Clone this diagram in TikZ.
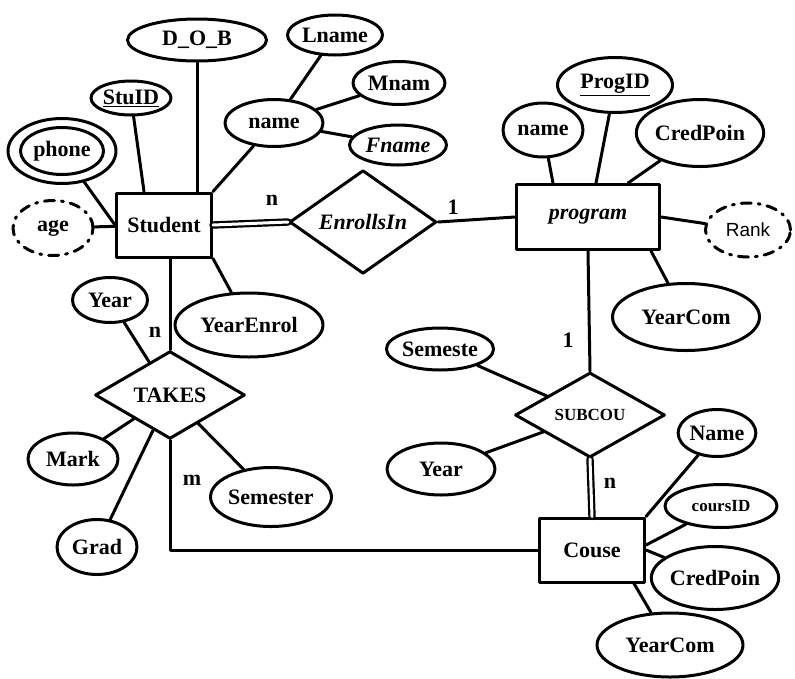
\documentclass[tikz,border=0pt]{standalone}
\usepackage{fontspec}
\setmainfont{Liberation Serif}
\setsansfont{Liberation Sans}
\usetikzlibrary{shapes.geometric}
\tikzset{
    lab/.style={
        font=\fontsize{22}{26}\selectfont\bfseries
    }
}
\begin{document}
\begin{tikzpicture}[x=1pt,y=-1pt, line cap=round, line join=round]

\tikzset{
  main/.style={draw=black, line width=3pt},
  ent/.style={rectangle, main, lab, inner sep=0pt},
  rel/.style={diamond, main, lab, inner sep=0pt},
  attr/.style={ellipse, main, lab, inner sep=0pt},
  derived/.style={attr, dash pattern=on 10pt off 7pt on 2pt off 7pt},
  small/.style={font=\fontsize{17}{20}\selectfont\bfseries},
  card/.style={lab},
  dbl/.style={draw=black, line width=2.2pt, double, double distance=3pt},
}

\useasboundingbox[fill=white] (0,0) rectangle (795,678);

% entities and relations
\node[ent, minimum width=95pt, minimum height=64pt] (Student) at (164,225) {Student\hspace{6pt}};
\node[rel, minimum width=147pt, minimum height=89pt] (EnrollsIn) at (363,222) {\itshape EnrollsIn};
\node[ent, minimum width=143pt, minimum height=65pt] (program) at (588,217) {\itshape program\hspace{28pt}};
\node[rel, minimum width=150pt, minimum height=85pt, small] (SUBCOU) at (590,415) {SUBCOU};
\node[ent, minimum width=105pt, minimum height=64pt] (Couse) at (592,550) {Couse};
\node[rel, minimum width=150pt, minimum height=85pt] (TAKES) at (170,395) {TAKES};

% attributes of Student
\node[attr, minimum width=108pt, minimum height=65pt] (phone) at (62,151) {};
\node[attr, minimum width=83pt, minimum height=47pt] (phonein) at (62,151) {phone};
\node[derived, minimum width=80pt, minimum height=55pt] (age) at (53,228) {age};
\node[attr, minimum width=80pt, minimum height=34pt] (StuID) at (131,98) {\underline{StuID}};
\node[attr, minimum width=139pt, minimum height=42pt] (DOB) at (197,40) {D\_O\_B};
\node[attr, minimum width=98pt, minimum height=47pt] (name) at (274,123) {name};
\node[attr, minimum width=95pt, minimum height=40pt] (Lname) at (335,35) {Lname};
\node[attr, minimum width=92pt, minimum height=43pt] (Mnam) at (399,83) {Mnam};
\node[attr, minimum width=97pt, minimum height=40pt] (Fname) at (398,145) {\itshape Fname};
\node[attr, minimum width=148pt, minimum height=64pt] (YearEnrol) at (249,325) {YearEnrol};

% attributes of program
\node[attr, minimum width=80pt, minimum height=54pt] (pname) at (543,130) {name};
\node[attr, minimum width=115pt, minimum height=55pt] (ProgID) at (615,85) {\underline{ProgID}};
\node[attr, minimum width=125pt, minimum height=67pt] (pCred) at (700,133) {CredPoin};
\node[attr, minimum width=147pt, minimum height=67pt] (pYear) at (686,317) {YearCom};
\node[derived, minimum width=85pt, minimum height=54pt, font=\fontsize{19}{22}\selectfont\sffamily] (Rank) at (748,230) {Rank};

% attributes of SUBCOU
\node[attr, minimum width=105pt, minimum height=42pt] (Semeste) at (440,349) {Semeste};
\node[attr, minimum width=108pt, minimum height=52pt] (sYear) at (441,469) {Year};

% attributes of Couse
\node[attr, minimum width=71pt, minimum height=47pt] (cName) at (717,433) {Name};
\node[attr, minimum width=112pt, minimum height=43pt, small] (coursID) at (721,506) {coursID};
\node[attr, minimum width=116pt, minimum height=63pt] (cCred) at (715,578) {CredPoin};
\node[attr, minimum width=146pt, minimum height=64pt] (cYear) at (670,645) {YearCom};

% attributes of TAKES
\node[attr, minimum width=75pt, minimum height=45pt] (tYear) at (110,300) {Year};
\node[attr, minimum width=90pt, minimum height=52pt] (Mark) at (73,459) {Mark};
\node[attr, minimum width=80pt, minimum height=55pt] (Grad) at (97,547) {Grad};
\node[attr, minimum width=115pt, minimum height=59pt] (Semester) at (271,497) {Semester};

% Student attributes
\draw[main] (phone) -- (Student.west);
\draw[main] (age) -- (Student);
\draw[main] (StuID) -- ([xshift=-20pt]Student.north);
\draw[main] (DOB.south) -- (DOB.south |- Student.north);
\draw[main] (name) -- (Student.north east);
\draw[main] (Lname) -- (name);
\draw[main] (Mnam) -- (name);
\draw[main] (Fname) -- (name);
\draw[main] (Student.south east) -- (YearEnrol);

% program attributes
\draw[main] (pname) -- ([xshift=-35pt]program.north);
\draw[main] (ProgID) -- ([xshift=8pt]program.north);
\draw[main] (pCred) -- ([xshift=40pt]program.north);
\draw[main] (pYear) -- ([xshift=-10pt]program.south east);
\draw[main] (program.east) -- (Rank);

% Couse attributes
\draw[main] (cName) -- (Couse.north east);
\draw[main] (coursID) -- ([yshift=5pt]Couse.east);
\draw[main] (cCred) -- (Couse.east);
\draw[main] (cYear) -- ([xshift=-12pt]Couse.south east);

% relation attributes
\draw[main] (Semeste) -- (SUBCOU);
\draw[main] (sYear) -- (SUBCOU);
\draw[main] (tYear) -- (TAKES);
\draw[main] (Mark) -- (TAKES);
\draw[main] (Grad) -- (TAKES);
\draw[main] (Semester) -- (TAKES);

% relationships
\draw[dbl] (Student.east) -- (EnrollsIn.west);
\draw[main] (EnrollsIn.east) -- (program.west);
\draw[main] (program.south) -- (SUBCOU.north);
\draw[dbl] (SUBCOU.south) -- (Couse.north);
\draw[main] (TAKES.north) -- (TAKES.north |- Student.south);
\draw[main] (TAKES.south) |- (Couse.west);

% cardinalities
\node[card] (c1) at (272,200) {n};
\node[card] (c2) at (453,207) {1};
\node[card] (c3) at (568,340) {1};
\node[card] (c4) at (610,483) {n};
\node[card] (c5) at (155,332) {n};
\node[card] (c6) at (192,480) {m};

\end{tikzpicture}
\end{document}
